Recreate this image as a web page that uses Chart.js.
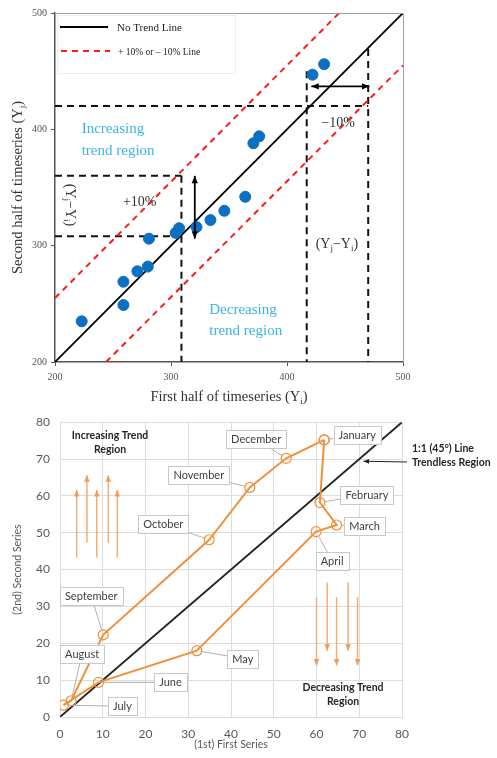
<!DOCTYPE html>
<html>
<head>
<meta charset="utf-8">
<script src="https://cdn.jsdelivr.net/npm/chart.js@4/dist/chart.umd.min.js"></script>
<style>
  body { margin: 0; background: #fff; }
  canvas { display: block; }
</style>
</head>
<body>
<canvas id="topChart" width="497" height="405"></canvas>
<canvas id="bottomChart" width="497" height="353"></canvas>
<script>
// ---- top chart data (first half vs second half of timeseries) ----
const firstHalf = [223, 259, 259, 271, 280, 281, 304, 307, 322, 334, 346, 364, 371, 376, 422, 432];
const secondHalf = [235, 249, 269, 278, 282, 306, 311, 315, 316, 322, 330, 342, 388, 394, 447, 456];
const topTicks = [200, 300, 400, 500];
// reference lines: 1:1 line and the +/- band
const noTrendLine = [[200, 200], [500, 500]];
const upperBand = [[200, 255], [445, 500]];
const lowerBand = [[244, 200], [500, 455]];
// black dashed guides, each [x1, y1, x2, y2]
const guideLines = [
  [200, 360, 309, 360],
  [200, 308, 311, 308],
  [309, 360, 309, 200],
  [417, 450, 417, 200],
  [470, 469, 470, 200],
  [200, 420, 470, 420]
];

// ---- bottom chart data (monthly series) ----
const months = ['January', 'February', 'March', 'April', 'May', 'June', 'July', 'August', 'September', 'October', 'November', 'December'];
const firstSeries = [61.8, 60.8, 64.7, 59.9, 32, 9, 0.8, 2.6, 10.1, 34.9, 44.4, 52.9];
const secondSeries = [75.2, 58.2, 52.1, 50.3, 18, 9.4, 3.2, 4.4, 22.3, 48.1, 62.3, 70.2];
const bottomTicks = [0, 10, 20, 30, 40, 50, 60, 70, 80];
// label box offset from its point, in pixels
const labelOffsets = [[33, -5], [47, -8], [28, 1], [16, 29], [46, 8], [72, 0], [59, 1], [11, -47], [-12, -39], [-46, -16], [-51, -12], [-30, -19]];

const pts = pairs => pairs.map(p => ({ x: p[0], y: p[1] }));

/**
 * Draw text made of parts, some of them subscripts.
 * */
const drawParts = function (ctx, parts, x, y, size, family, color) {
  const subSize = Math.round(size * 0.65);
  let total = 0;
  parts.forEach(p => {
    ctx.font = (p[1] ? subSize : size) + 'px ' + family;
    total += ctx.measureText(p[0]).width;
  });
  let cx = x - total / 2;
  ctx.fillStyle = color;
  ctx.textAlign = 'left';
  ctx.textBaseline = 'middle';
  parts.forEach(p => {
    ctx.font = (p[1] ? subSize : size) + 'px ' + family;
    ctx.fillText(p[0], cx, p[1] ? y + size * 0.3 : y);
    cx += ctx.measureText(p[0]).width;
  });
}

const drawArrow = function (ctx, x1, y1, x2, y2, head, both) {
  ctx.beginPath();
  ctx.moveTo(x1, y1);
  ctx.lineTo(x2, y2);
  ctx.stroke();
  const tip = (fx, fy, tx, ty) => {
    const a = Math.atan2(ty - fy, tx - fx);
    ctx.beginPath();
    ctx.moveTo(tx, ty);
    ctx.lineTo(tx - head * Math.cos(a - 0.4), ty - head * Math.sin(a - 0.4));
    ctx.lineTo(tx - head * Math.cos(a + 0.4), ty - head * Math.sin(a + 0.4));
    ctx.closePath();
    ctx.fill();
  };
  tip(x1, y1, x2, y2);
  if (both) tip(x2, y2, x1, y1);
}

const serif = '"Liberation Serif", "DejaVu Serif", serif';

const topDecor = {
  id: 'topDecor',
  afterDraw(chart) {
    const ctx = chart.ctx;
    const xs = chart.scales.x, ys = chart.scales.y;
    const X = v => xs.getPixelForValue(v), Y = v => ys.getPixelForValue(v);
    const a = chart.chartArea;
    ctx.save();
    // frame
    ctx.strokeStyle = '#a0a0a0';
    ctx.lineWidth = 1;
    ctx.beginPath();
    ctx.moveTo(a.left, a.top + 0.5);
    ctx.lineTo(a.right + 0.5, a.top + 0.5);
    ctx.lineTo(a.right + 0.5, a.bottom);
    ctx.stroke();

    // legend
    ctx.strokeStyle = '#eeeeee';
    ctx.strokeRect(a.left + 2.5, a.top + 2.5, 178, 58);
    ctx.strokeStyle = '#000';
    ctx.lineWidth = 1.8;
    ctx.beginPath(); ctx.moveTo(60, 27); ctx.lineTo(108, 27); ctx.stroke();
    ctx.strokeStyle = '#ff1a1a';
    ctx.setLineDash([6, 5]);
    ctx.beginPath(); ctx.moveTo(61, 51); ctx.lineTo(110, 51); ctx.stroke();
    ctx.setLineDash([]);
    ctx.fillStyle = '#222';
    ctx.textAlign = 'left';
    ctx.textBaseline = 'middle';
    ctx.font = '11px ' + serif;
    ctx.fillText('No Trend Line', 117, 28);
    ctx.font = '9.5px ' + serif;
    ctx.fillText('+ 10% or \u2013 10% Line', 118, 52);

    // arrows
    ctx.strokeStyle = '#000';
    ctx.fillStyle = '#000';
    ctx.lineWidth = 1.8;
    drawArrow(ctx, X(320.5), Y(360), X(320.5), Y(306), 8, true);
    drawArrow(ctx, X(421), Y(437), X(471), Y(437), 8, true);

    // region texts
    ctx.fillStyle = '#3cb4e6';
    ctx.font = '15px ' + serif;
    ctx.textAlign = 'left';
    ctx.fillText('Increasing', X(223), Y(400));
    ctx.fillText('trend region', X(223), Y(381));
    ctx.fillText('Decreasing', X(333), Y(245));
    ctx.fillText('trend region', X(333), Y(227));

    // percentages and differences
    ctx.fillStyle = '#333';
    ctx.font = '14px ' + serif;
    ctx.textAlign = 'center';
    ctx.fillText('+10%', X(273), Y(337));
    ctx.fillText('\u221210%', X(444), Y(405));
    drawParts(ctx, [['(Y', 0], ['j', 1], ['\u2212Y', 0], ['i', 1], [')', 0]], X(443), Y(301), 14, serif, '#333');
    ctx.save();
    ctx.translate(X(213), Y(335));
    ctx.rotate(Math.PI / 2);
    drawParts(ctx, [['(Y', 0], ['j', 1], ['\u2212Y', 0], ['i', 1], [')', 0]], 0, 0, 14, serif, '#333');
    ctx.restore();

    // axis titles
    drawParts(ctx, [['First half of timeseries (Y', 0], ['i', 1], [')', 0]], (a.left + a.right) / 2, 397, 14.5, serif, '#333');
    ctx.save();
    ctx.translate(18, (a.top + a.bottom) / 2);
    ctx.rotate(-Math.PI / 2);
    drawParts(ctx, [['Second half of timeseries (Y', 0], ['j', 1], [')', 0]], 0, 0, 14.5, serif, '#333');
    ctx.restore();
    ctx.restore();
  }
};

const lineSet = (data, color, width, dash) => ({
  data: data,
  showLine: true,
  borderColor: color,
  borderWidth: width,
  borderDash: dash,
  pointRadius: 0,
  fill: false
});

const topDatasets = [
  {
    data: firstHalf.map((v, i) => ({ x: v, y: secondHalf[i] })),
    backgroundColor: '#0b6fc2',
    borderColor: '#0b6fc2',
    pointRadius: 5.5,
    pointHoverRadius: 5.5
  },
  lineSet(pts(noTrendLine), '#000', 1.8, []),
  lineSet(pts(upperBand), '#ff1a1a', 2, [6, 5]),
  lineSet(pts(lowerBand), '#ff1a1a', 2, [6, 5])
].concat(guideLines.map(g => lineSet(pts([[g[0], g[1]], [g[2], g[3]]]), '#111', 2, [7, 5])));

new Chart(document.getElementById('topChart'), {
  type: 'scatter',
  data: { datasets: topDatasets },
  options: {
    responsive: false,
    animation: false,
    devicePixelRatio: 1,
    layout: { padding: { top: 13, right: 94, left: 0, bottom: 0 } },
    plugins: { legend: { display: false }, tooltip: { enabled: false } },
    scales: {
      x: {
        type: 'linear', min: 200, max: 500,
        afterBuildTicks: s => { s.ticks = topTicks.map(v => ({ value: v })); },
        afterFit: s => { s.height = 43; },
        grid: { display: true, drawOnChartArea: false, drawTicks: true, tickLength: 4, color: '#555' },
        border: { color: '#555', width: 1.5 },
        ticks: { color: '#555', font: { size: 10, family: serif }, padding: 5 }
      },
      y: {
        type: 'linear', min: 200, max: 500,
        afterBuildTicks: s => { s.ticks = topTicks.map(v => ({ value: v })); },
        afterFit: s => { s.width = 55; },
        grid: { display: true, drawOnChartArea: false, drawTicks: true, tickLength: 4, color: '#555' },
        border: { color: '#555', width: 1.5 },
        ticks: { color: '#555', font: { size: 10, family: serif }, padding: 4 }
      }
    }
  },
  plugins: [topDecor]
});

// ---------------- bottom chart ----------------
const sans = 'Lato, "Open Sans", sans-serif';
const orange = '#f0903c';

const bottomDecor = {
  id: 'bottomDecor',
  afterDraw(chart) {
    const ctx = chart.ctx;
    const xs = chart.scales.x, ys = chart.scales.y;
    const X = v => xs.getPixelForValue(v), Y = v => ys.getPixelForValue(v);
    const a = chart.chartArea;
    ctx.save();

    // month labels with leader lines
    ctx.font = '11px ' + sans;
    months.forEach((m, i) => {
      const px = X(firstSeries[i]), py = Y(secondSeries[i]);
      const bx = px + labelOffsets[i][0], by = py + labelOffsets[i][1];
      const ang = Math.atan2(by - py, bx - px);
      ctx.strokeStyle = '#b0b0b0';
      ctx.lineWidth = 1;
      ctx.beginPath();
      ctx.moveTo(px + 5 * Math.cos(ang), py + 5 * Math.sin(ang));
      ctx.lineTo(bx, by);
      ctx.stroke();
      const w = ctx.measureText(m).width + 10, h = 18;
      ctx.fillStyle = '#fff';
      ctx.fillRect(bx - w / 2, by - h / 2, w, h);
      ctx.strokeStyle = '#c8c8c8';
      ctx.strokeRect(Math.round(bx - w / 2) + 0.5, Math.round(by - h / 2) + 0.5, Math.round(w), h);
      ctx.fillStyle = '#404040';
      ctx.textAlign = 'center';
      ctx.textBaseline = 'middle';
      ctx.fillText(m, bx, by + 0.5);
    });

    // trend arrows
    ctx.strokeStyle = '#f5ad74';
    ctx.fillStyle = '#f39a55';
    ctx.lineWidth = 1.5;
    const upX = [3.9, 6.3, 8.6, 11.3, 13.4];
    const downX = [60.0, 62.5, 64.7, 67.4, 69.6];
    upX.forEach((x, i) => {
      const shift = i % 2 === 1 ? 4 : 0;
      drawArrow(ctx, X(x), Y(43.3 + shift), X(x), Y(61.6 + shift), 7, false);
    });
    downX.forEach((x, i) => {
      const shift = i % 2 === 1 ? 4 : 0;
      drawArrow(ctx, X(x), Y(32.5 + shift), X(x), Y(14 + shift), 7, false);
    });

    // region texts
    ctx.fillStyle = '#262626';
    ctx.font = 'bold 10.5px ' + sans;
    ctx.textAlign = 'center';
    ctx.fillText('Increasing Trend', X(11.7), Y(76.3));
    ctx.fillText('Region', X(11.7), Y(72.6));
    ctx.fillText('Decreasing Trend', X(66.2), Y(7.9));
    ctx.fillText('Region', X(66.2), Y(4.1));
    ctx.textAlign = 'left';
    ctx.fillText('1:1 (45\u00b0) Line', a.right + 10, Y(72.8));
    ctx.fillText('Trendless Region', a.right + 10, Y(68.9));
    ctx.strokeStyle = '#222';
    ctx.fillStyle = '#222';
    ctx.lineWidth = 1;
    drawArrow(ctx, a.right + 5, Y(69.2), X(71), Y(69.4), 6, false);

    // axis titles
    ctx.fillStyle = '#595959';
    ctx.font = '10.5px ' + sans;
    ctx.textAlign = 'center';
    ctx.textBaseline = 'middle';
    ctx.fillText('(1st) First Series', (a.left + a.right) / 2, 340);
    ctx.save();
    ctx.translate(18, (a.top + a.bottom) / 2);
    ctx.rotate(-Math.PI / 2);
    ctx.fillText('(2nd) Second Series', 0, 0);
    ctx.restore();
    ctx.restore();
  }
};

const loop = months.map((m, i) => ({ x: firstSeries[i], y: secondSeries[i] }));
loop.push(loop[0]);

new Chart(document.getElementById('bottomChart'), {
  type: 'scatter',
  data: {
    datasets: [
      {
        data: loop,
        showLine: true,
        borderColor: orange,
        borderWidth: 2,
        pointRadius: 5,
        pointBorderWidth: 1.2,
        pointBorderColor: orange,
        pointBackgroundColor: 'rgba(255,255,255,0)'
      },
      lineSet(pts([[0, 0], [80, 80]]), '#222', 1.8, [])
    ]
  },
  options: {
    responsive: false,
    animation: false,
    devicePixelRatio: 1,
    layout: { padding: { top: 7, right: 95, left: 0, bottom: 0 } },
    plugins: { legend: { display: false }, tooltip: { enabled: false } },
    scales: {
      x: {
        type: 'linear', min: 0, max: 80,
        afterBuildTicks: s => { s.ticks = bottomTicks.map(v => ({ value: v })); },
        afterFit: s => { s.height = 41; },
        grid: { color: '#dcdcdc', drawTicks: false },
        border: { color: '#dcdcdc' },
        ticks: { color: '#595959', font: { size: 12, family: sans }, padding: 10 }
      },
      y: {
        type: 'linear', min: 0, max: 80,
        afterBuildTicks: s => { s.ticks = bottomTicks.map(v => ({ value: v })); },
        afterFit: s => { s.width = 60; },
        grid: { color: '#dcdcdc', drawTicks: false },
        border: { color: '#dcdcdc' },
        ticks: { color: '#595959', font: { size: 12, family: sans }, padding: 10 }
      }
    }
  },
  plugins: [bottomDecor]
});
</script>
</body>
</html>
